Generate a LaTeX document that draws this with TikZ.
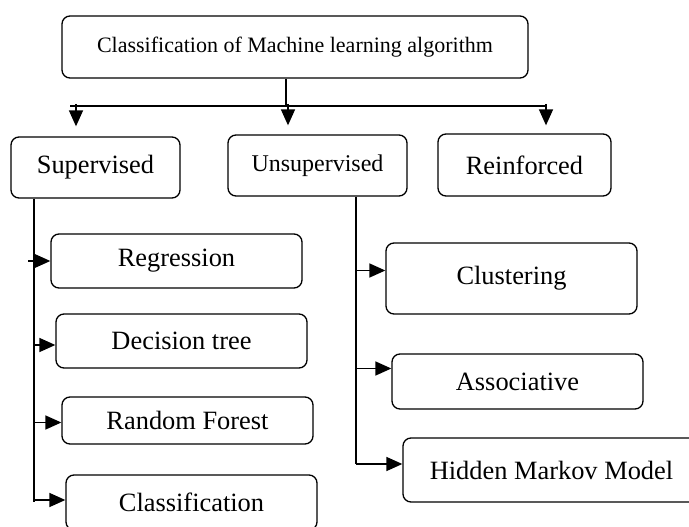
\documentclass[tikz,border=0pt]{standalone}
\usepackage{fontspec}
\setmainfont{Liberation Serif}
\usetikzlibrary{arrows.meta}

\begin{document}
\begin{tikzpicture}[x=1pt,y=-1pt,
        box/.style={draw,rounded corners=8pt,line width=1.3pt,inner sep=0pt,font=\fontsize{26.4}{30}\selectfont},
        leaf/.style={box,minimum width=251pt},
        link/.style={line width=1.6pt},
        arr/.style={line width=1.6pt,-{Triangle[length=16pt,width=14pt]}}]
            \clip (0,0) rectangle (689,527);

            \node (top) at (295,47) [box,minimum width=466pt,minimum height=62pt,font=\fontsize{22}{26}\selectfont] {Classification of Machine learning algorithm};

            \node (sup) at (95.5,167.5) [box,minimum width=169pt,minimum height=61pt] {Supervised};
            \node (uns) at (317.5,165.5) [box,minimum width=179pt,minimum height=61pt,font=\fontsize{24}{28}\selectfont] {Unsupervised};
            \node (rei) at (524.5,165) [box,minimum width=173pt,minimum height=62pt] {Reinforced};

            \node (reg) at (176.5,261) [leaf,minimum height=54pt] {Regression};
            \node (dec) at (181.5,341) [leaf,minimum height=54pt] {Decision tree};
            \node (rnd) at (187.5,420.5) [leaf,minimum height=47pt] {Random Forest};
            \node (cls) at (191.5,502.5) [leaf,minimum height=55pt] {Classification};

            \node (clu) at (511.5,278.5) [leaf,minimum height=71pt] {Clustering};
            \node (asc) at (517.5,381.5) [leaf,minimum height=55pt] {Associative};
            \node (hmm) at (551.5,470) [box,minimum width=297pt,minimum height=64pt] {Hidden Markov Model};

            \coordinate (tb) at (286,106);
            \coordinate (bl) at (70,106);
            \coordinate (br) at (547,106);
            \coordinate (ba) at (76,104);
            \coordinate (bb) at (288,104);
            \coordinate (bc) at (546,104);
            \coordinate (strk) at (34,502);
            \coordinate (utrk) at (356,464);

            \draw[link] (top.south -| tb) -- (tb) (bl) -- (br)
            (sup.south -| strk) -- (strk) (uns.south -| utrk) -- (utrk);
            \draw[arr,shorten >=10pt] (ba) -- (ba |- sup.north);
            \draw[arr,shorten >=9pt] (bb) -- (bb |- uns.north);
            \draw[arr,shorten >=8pt] (bc) -- (bc |- rei.north);

            \draw[arr] ([xshift=-6pt]reg.west -| strk) -- (reg.west);
            \draw[arr] ([yshift=-4pt]dec.west -| strk) -- ([yshift=-4pt]dec.west);
            \draw[arr] ([yshift=-2pt]rnd.west -| strk) -- ([yshift=-2pt]rnd.west);
            \draw[arr] ([yshift=2.5pt]cls.west -| strk) -- ([yshift=2.5pt]cls.west);

            \draw[arr] ([yshift=8pt]clu.west -| utrk) -- ([yshift=8pt]clu.west);
            \draw[arr] ([yshift=13pt]asc.west -| utrk) -- ([yshift=13pt]asc.west);
            \draw[arr] ([yshift=6pt]hmm.west -| utrk) -- ([yshift=6pt]hmm.west);
        \end{tikzpicture}
\end{document}
